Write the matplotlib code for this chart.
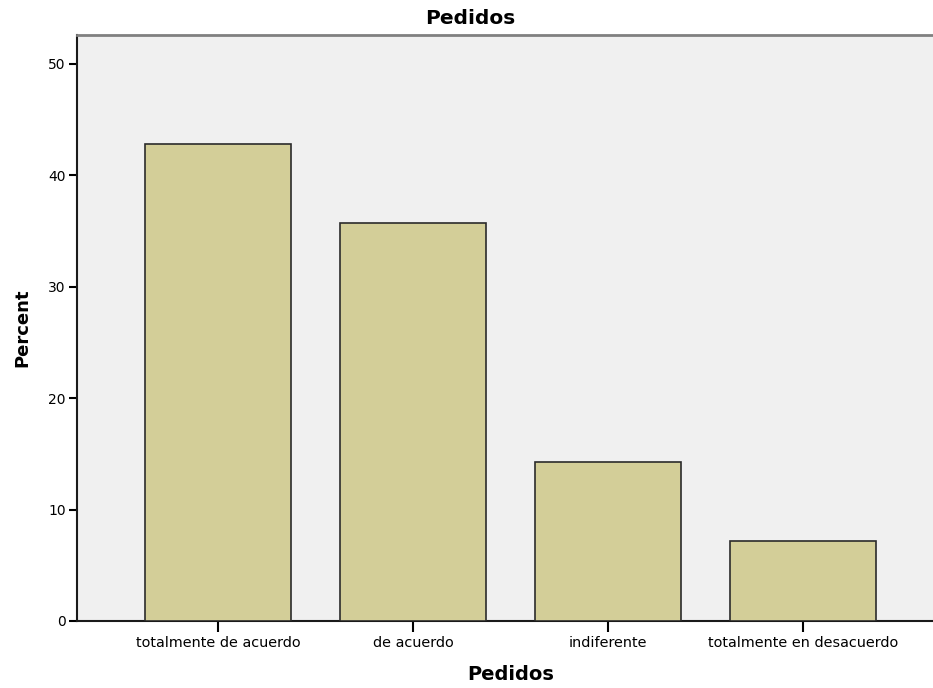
import matplotlib
matplotlib.use("Agg")
import matplotlib.pyplot as plt

categories = ["totalmente de acuerdo", "de acuerdo", "indiferente", "totalmente en desacuerdo"]
percent = [42.86, 35.71, 14.29, 7.14]
yticks = [0, 10, 20, 30, 40, 50]

plt.rcParams['font.family'] = ['DejaVu Sans']

fig = plt.figure(figsize=(9.33, 6.88), dpi=100)
ax = fig.add_axes([77/933, 67/688, 1 - 77/933, (621-35)/688])
ax.set_facecolor('#f0f0f0')
x = list(range(len(categories)))
ax.bar(x, percent, width=0.749, color='#d3ce98', edgecolor='#2b2b2b', linewidth=1.2, zorder=3)
ax.set_xlim(-0.723, 3.667)
ax.set_ylim(0, 52.6)
ax.set_yticks(yticks)
ax.set_xticks(x)
ax.set_xticklabels(categories, fontsize=10.4)
ax.tick_params(axis='y', labelsize=10, length=6, width=1.5, direction='out', pad=2)
ax.tick_params(axis='x', length=8, width=1.5, direction='out', pad=3)
for s in ['left', 'bottom']:
    ax.spines[s].set_color('#1a1a1a')
    ax.spines[s].set_linewidth(1.5)
ax.spines['top'].set_color('#808080')
ax.spines['top'].set_linewidth(2)
ax.spines['right'].set_visible(False)
fig.text(470/933, 1 - 18/688, "Pedidos", fontsize=14.5, fontweight='bold', ha='center', va='center')
ax.set_xlabel("Pedidos", fontsize=14, fontweight='bold')
ax.xaxis.set_label_coords((511 - 77) / 856, -(674 - 621) / 586)
ax.xaxis.label.set_va('center')
ax.set_ylabel("Percent", fontsize=13, fontweight='bold', labelpad=12)
fig.savefig("out.png", dpi=100)
